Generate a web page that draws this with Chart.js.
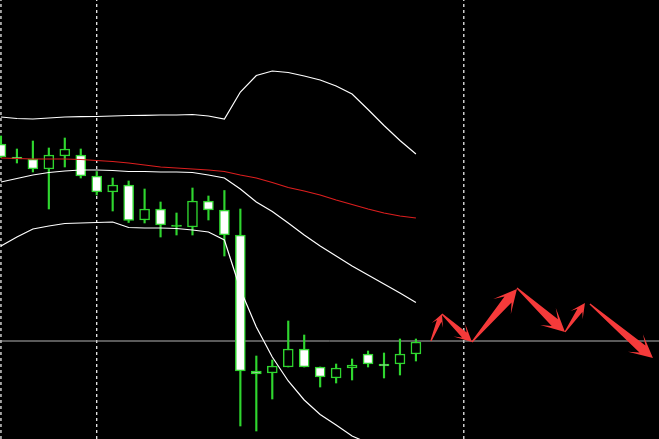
<!DOCTYPE html>
<html>
<head>
<meta charset="utf-8">
<title>Candles</title>
<script src="https://cdn.jsdelivr.net/npm/chart.js@4.4.1/dist/chart.umd.min.js"></script>
<style>
  html, body { margin: 0; padding: 0; background: #000; overflow: hidden; }
  #wrap { width: 659px; height: 439px; position: relative; }
</style>
</head>
<body>
<div id="wrap"><canvas id="chart"></canvas></div>
<script>
// bar number of each candle
const bars = [0, 1, 2, 3, 4, 5, 6, 7, 8, 9, 10, 11, 12, 13, 14, 15, 16, 17, 18, 19, 20, 21, 22, 23, 24, 25, 26];

const openVals  = [295, 282, 280, 270, 283, 284, 263, 247, 254, 219, 230, 214, 212, 238, 229, 204, 68, 66, 72, 90, 72, 61, 71, 85, 75, 75, 85];
const highVals  = [303, 290, 298, 291, 301, 290, 267.5, 261, 258, 250, 237, 226, 251, 243, 248.5, 230, 83, 79, 118, 104, 72, 75, 80, 88, 86, 100, 100];
const lowVals   = [281.5, 276, 267, 230, 272, 261, 244, 228, 216.5, 216, 202, 204, 204, 219, 183, 13, 8, 40, 72, 72, 52, 56, 59, 72, 61, 64, 78];
const closeVals = [282, 280, 270, 284, 290, 263, 247, 254, 218.5, 230, 214, 212.5, 238, 229, 204, 68, 65, 73, 90, 72, 62, 71, 74, 75, 73, 85, 97];

// bollinger bands + slow moving average
const upperBand  = [322, 320.5, 320, 321, 322, 322.3, 322.5, 323, 323.5, 323.7, 324, 324, 324.5, 323, 320, 347, 363.5, 368, 366.5, 363, 359, 353, 345, 329.5, 313.5, 298.5, 285];
const middleBand = [257, 260.5, 264, 266.5, 268, 269, 269, 268.5, 267.5, 267.5, 267, 267, 266.5, 264, 261, 250, 237, 227.5, 216, 204, 193, 183, 173, 164, 155, 146, 136.5];
const lowerBand  = [193, 202, 210, 213, 215.5, 216, 216.5, 217, 211.5, 211, 211, 210.5, 209, 207, 199, 149.5, 112, 82, 58, 39, 24.5, 14, 3, -4, -9, -13, -17];
const slowMA     = [281, 280.5, 280, 280, 280, 279.5, 278.5, 277.5, 276, 274, 272, 271, 270, 269, 267.5, 264, 261, 256.5, 251.5, 248, 244, 239, 234.5, 230, 226, 223, 221];

// forecast arrows (bar, price)
const arrowFromX = [26.94, 27.63, 29.51, 32.33, 35.34, 36.9];
const arrowFromY = [98, 125, 97, 151, 107, 135];
const arrowToX   = [27.63, 29.51, 32.33, 35.34, 36.59, 40.85];
const arrowToY   = [125, 97, 150, 107, 136, 81];

const separatorBars = [0, 6, 29];
const levelPrice = 98;

const xMin = -0.06, xMax = 41.23;
const yMin = 0, yMax = 439;

const GREEN = "#2fd62f";

function bodyFill(i) {
  if (Math.abs(openVals[i] - closeVals[i]) < 2) return GREEN;
  return closeVals[i] > openVals[i] ? "#000000" : "#ffffff";
}

function lineSet(values, color, order) {
  return {
    type: "line",
    data: bars.map((b, i) => ({ x: b, y: values[i] })),
    borderColor: color,
    borderWidth: 1.2,
    pointRadius: 0,
    tension: 0,
    order: order
  };
}

const datasets = [];

// dashed day separators
separatorBars.forEach((b) => {
  datasets.push({
    type: "line",
    data: [{ x: b, y: yMin }, { x: b, y: yMax }],
    borderColor: "#ffffff",
    borderWidth: 1.2,
    borderDash: [3, 3],
    pointRadius: 0,
    order: 9
  });
});

// horizontal level
datasets.push({
  type: "line",
  data: [{ x: xMin, y: levelPrice }, { x: xMax, y: levelPrice }],
  borderColor: "#b4b4b4",
  borderWidth: 1,
  pointRadius: 0,
  order: 8
});

// wicks
datasets.push({
  type: "bar",
  data: bars.map((b, i) => ({ x: b, y: [lowVals[i], highVals[i]] })),
  backgroundColor: GREEN,
  borderWidth: 0,
  barThickness: 1.5,
  grouped: false,
  order: 6
});

// bodies
datasets.push({
  type: "bar",
  data: bars.map((b, i) => ({ x: b, y: [openVals[i], closeVals[i]] })),
  backgroundColor: bars.map((b, i) => bodyFill(i)),
  borderColor: GREEN,
  borderWidth: 1.5,
  borderSkipped: false,
  barThickness: 10,
  grouped: false,
  order: 5
});

datasets.push(lineSet(upperBand, "#ffffff", 2));
datasets.push(lineSet(middleBand, "#ffffff", 2));
datasets.push(lineSet(lowerBand, "#ffffff", 2));
datasets.push(lineSet(slowMA, "#dc1e1e", 1));

// tapered arrows drawn with the chart's scales
const arrowPlugin = {
  id: "arrows",
  afterDatasetsDraw(chart) {
    const ctx = chart.ctx;
    const xs = chart.scales.x;
    const ys = chart.scales.y;
    ctx.save();
    ctx.fillStyle = "#f53a3a";
    for (let i = 0; i < arrowFromX.length; i++) {
      const x0 = xs.getPixelForValue(arrowFromX[i]);
      const y0 = ys.getPixelForValue(arrowFromY[i]);
      const x1 = xs.getPixelForValue(arrowToX[i]);
      const y1 = ys.getPixelForValue(arrowToY[i]);
      const len = Math.hypot(x1 - x0, y1 - y0);
      const ux = (x1 - x0) / len, uy = (y1 - y0) / len;
      const nx = -uy, ny = ux;
      const head = Math.min(23, len * 0.42);
      const half = head * 0.5;
      const shaft = head * 0.2;
      const pt = (a, n) => [x0 + ux * a + nx * n, y0 + uy * a + ny * n];
      const pts = [
        pt(0, 0.6),
        pt(len - head * 0.6, shaft),
        pt(len - head, half),
        pt(len, 0),
        pt(len - head, -half),
        pt(len - head * 0.6, -shaft),
        pt(0, -0.6)
      ];
      ctx.beginPath();
      ctx.moveTo(pts[0][0], pts[0][1]);
      for (let k = 1; k < pts.length; k++) ctx.lineTo(pts[k][0], pts[k][1]);
      ctx.closePath();
      ctx.fill();
    }
    ctx.restore();
  }
};

new Chart(document.getElementById("chart"), {
  data: { datasets },
  options: {
    responsive: true,
    maintainAspectRatio: false,
    animation: false,
    layout: { padding: 0 },
    scales: {
      x: { type: "linear", min: xMin, max: xMax, offset: false, display: false },
      y: { type: "linear", min: yMin, max: yMax, display: false }
    },
    plugins: {
      legend: { display: false },
      tooltip: { enabled: false }
    }
  },
  plugins: [arrowPlugin]
});
</script>
</body>
</html>
